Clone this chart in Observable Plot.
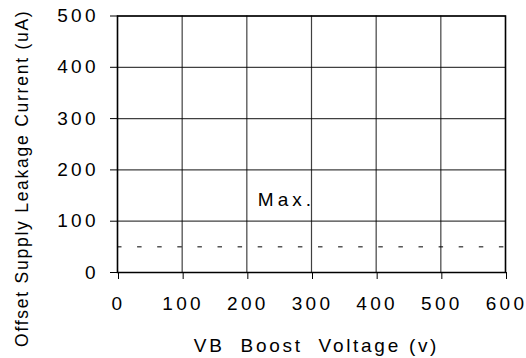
<!DOCTYPE html>
<html><head><meta charset="utf-8">
<script src="https://cdn.jsdelivr.net/npm/d3@7"></script>
<script src="https://cdn.jsdelivr.net/npm/@observablehq/plot@0.6"></script>
<style>
html,body{margin:0;padding:0;background:#fff;}
svg text{font-family:"Liberation Sans",Arial,sans-serif;}
g[aria-label="y-axis tick label"] text, g[aria-label="x-axis tick label"] text{letter-spacing:3.3px;}
</style></head><body><div id="chart"></div>
<script>
const xTicks = [0, 100, 200, 300, 400, 500, 600];
const yTicks = [0, 100, 200, 300, 400, 500];
const maxLimit = [50];
const maxNote = [{x: 217, y: 141, label: "Max."}];
const xLabel = "VB  Boost  Voltage (v)";
const yLabel = "Offset Supply Leakage Current (uA)";

const chart = Plot.plot({
  width: 526, height: 358,
  marginLeft: 117, marginRight: 21, marginTop: 15.5, marginBottom: 86,
  style: {fontFamily: '"Liberation Sans", Arial, sans-serif', background: "#fff", color: "#000"},
  x: {domain: [0, 600]},
  y: {domain: [0, 500]},
  marks: [
    Plot.gridX(xTicks, {stroke: "#000", strokeOpacity: 0.75, strokeWidth: 1.2}),
    Plot.gridY(yTicks, {stroke: "#000", strokeOpacity: 0.75, strokeWidth: 1.2}),
    Plot.ruleY(maxLimit, {stroke: "#000", strokeDasharray: "4.5,15.6", strokeWidth: 1}),
    Plot.frame({stroke: "#000", strokeWidth: 1.5}),
    Plot.axisX(xTicks, {tickSize: 7, tickPadding: 16.5, fontSize: 19, label: null, tickFormat: d => String(d), dx: 1}),
    Plot.axisY(yTicks, {tickSize: 7, tickPadding: 11.7, fontSize: 19, label: null, tickFormat: d => String(d)}),
    Plot.text(maxNote, {x: "x", y: "y", text: "label", textAnchor: "start", fontSize: 19, fill: "#000"}),
    Plot.text([xLabel], {frameAnchor: "bottom", textAnchor: "middle", dy: 79, dx: 5, lineAnchor: "bottom", fontSize: 19, fill: "#000"}),
    Plot.text([yLabel], {frameAnchor: "left", textAnchor: "middle", rotate: -90, dx: -90, dy: 34, lineAnchor: "bottom", fontSize: 17.5, fill: "#000"})
  ]
});
const spacing = new Map([[xLabel, "2.7px"], [yLabel, "1.75px"], ["Max.", "4px"]]);
d3.select(chart).selectAll("text").each(function() {
  const s = spacing.get(this.textContent);
  if (s) { this.style.letterSpacing = s; this.setAttribute("xml:space", "preserve"); this.style.whiteSpace = "pre"; }
});
document.getElementById("chart").appendChild(chart);
</script></body></html>
